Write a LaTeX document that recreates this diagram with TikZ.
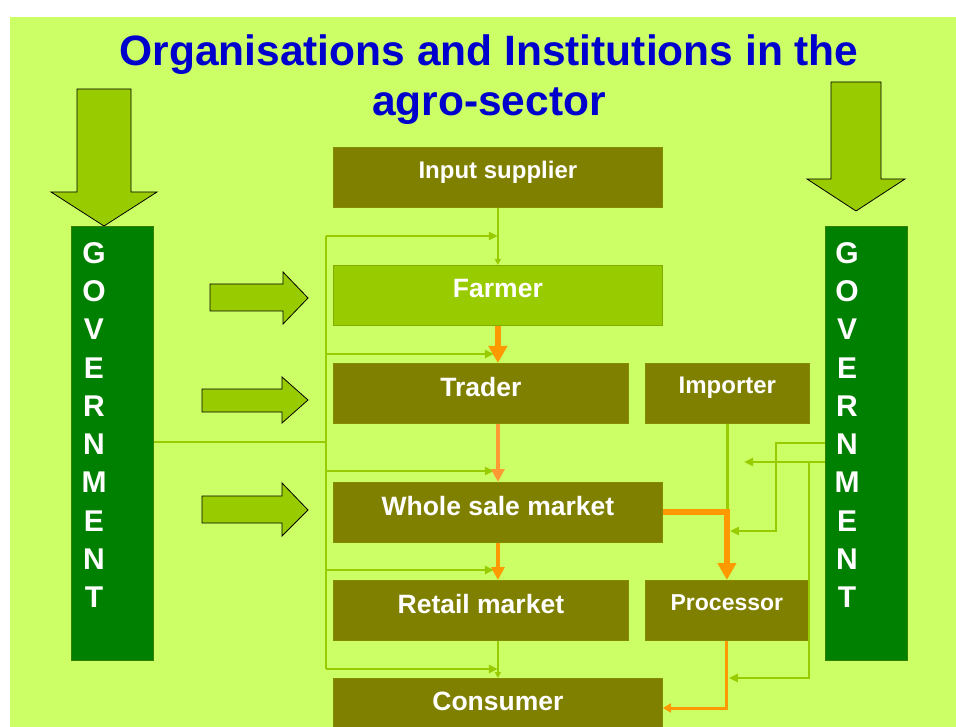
\documentclass[tikz,border=0pt]{standalone}
\usepackage{fontspec}
\setmainfont{Liberation Sans}
\usetikzlibrary{arrows.meta}
\definecolor{bg}{HTML}{CCFF66}
\definecolor{olivebox}{HTML}{808000}
\definecolor{leaf}{HTML}{99CC00}
\definecolor{govgreen}{HTML}{008000}
\definecolor{orangeA}{HTML}{FF9900}
\definecolor{orangeB}{HTML}{FF9933}
\definecolor{titleblue}{HTML}{0000CC}
\begin{document}
\begin{tikzpicture}[x=1pt,y=-1pt,
  box/.style={anchor=north west, inner sep=0pt, fill=olivebox, draw=olivebox!85!leaf, line width=0.8pt,
    text=white, font=\bfseries\fontsize{26.5}{30}\selectfont, text depth=14pt},
  smallbox/.style={box, font=\bfseries\fontsize{24}{27}\selectfont, text depth=16pt},
  farmerbox/.style={box, fill=leaf, draw=leaf!85!black},
  govbar/.style={anchor=north west, inner sep=0pt, fill=govgreen, draw=govgreen!60!olivebox, line width=1pt,
    minimum width=82pt, minimum height=434pt},
  govtext/.style={anchor=north, inner sep=0pt, align=center, text=white,
    font=\bfseries\fontsize{30}{38.3}\selectfont},
  titletext/.style={anchor=base, inner sep=0pt, text=titleblue, font=\bfseries\fontsize{42.5}{50}\selectfont},
  blockarrow/.style={fill=leaf, draw=black, line width=0.8pt, line join=miter},
  gline/.style={draw=leaf, line width=2.5pt},
  gthin/.style={draw=leaf, line width=1.4pt},
  garrow/.style={gline, -{Triangle[length=9pt,width=8pt]}},
  gthinarrow/.style={gthin, -{Triangle[length=6pt,width=6pt]}},
  obig/.style={draw=orangeA, line width=6pt, -{Triangle[length=17pt,width=18pt]}},
  omid/.style={draw=orangeB, line width=4pt, -{Triangle[length=13pt,width=13pt]}},
  omidB/.style={draw=orangeA, line width=4pt, -{Triangle[length=13pt,width=13pt]}},
  osmall/.style={draw=orangeA, line width=3pt, -{Triangle[length=8pt,width=9pt]}},
]
\clip (0,0) rectangle (956,727);
\fill[white] (0,0) rectangle (956,727);
\fill[bg] (10,17) rectangle (956,727);

% title
\node[titletext] (title1) at (489,66) {Organisations and Institutions in the};
\node[titletext] (title2) at (489,116) {agro-sector};

% boxes
\node[smallbox, minimum width=329pt, minimum height=60pt] (input) at (333,147) {Input supplier};
\node[farmerbox, minimum width=329pt, minimum height=60pt] (farmer) at (333,265) {Farmer};
\node[box, minimum width=295pt, minimum height=60pt] (trader) at (333,363) {Trader};
\node[smallbox, minimum width=164pt, minimum height=60pt] (importer) at (645,363) {Importer};
\node[box, minimum width=329pt, minimum height=60pt] (wholesale) at (333,482) {Whole sale market};
\node[box, minimum width=295pt, minimum height=60pt] (retail) at (333,580) {Retail market};
\node[smallbox, font=\bfseries\fontsize{23}{27}\selectfont, minimum width=163pt, minimum height=60pt] (processor) at (645,580) {Processor};
\node[box, minimum width=329pt, minimum height=60pt] (consumer) at (333,678) {Consumer};

% government bars
\node[govbar] (govL) at (71,226) {};
\node[govbar] (govR) at (825,226) {};
\node[govtext] (govLtxt) at (94,242) {G\\O\\V\\E\\R\\N\\M\\E\\N\\T};
\node[govtext] (govRtxt) at (847,242) {G\\O\\V\\E\\R\\N\\M\\E\\N\\T};

% block arrows
\draw[blockarrow] (77,89) -- (131,89) -- (131,192) -- (157,192) -- (104,226) -- (51,192) -- (77,192) -- cycle;
\draw[blockarrow] (831,82) -- (881,82) -- (881,179) -- (905,179) -- (856,211) -- (807,179) -- (831,179) -- cycle;
\draw[blockarrow] (210,284) -- (283,284) -- (283,272) -- (308,298) -- (283,324) -- (283,311) -- (210,311) -- cycle;
\draw[blockarrow] (202,389) -- (282,389) -- (282,377) -- (308,400) -- (282,423) -- (282,412) -- (202,412) -- cycle;
\draw[blockarrow] (202,496) -- (282,496) -- (282,483) -- (308,510) -- (282,536) -- (282,523) -- (202,523) -- cycle;

% left government bus
\coordinate (busG) at (326,442);
\coordinate (b1) at (326,236);
\coordinate (b2) at (326,354);
\coordinate (b3) at (326,471);
\coordinate (b4) at (326,570);
\coordinate (b5) at (326,669);
\draw[gline] (govL.east |- busG) -- (busG);
\draw[gline] (b1) -- (b5);
\draw[garrow] (b1) -- (input.south |- b1);
\draw[garrow] (b2) -- ([xshift=-4pt]farmer.south |- b2);
\draw[garrow] (b3) -- ([xshift=-4pt]wholesale.north |- b3);
\draw[garrow] (b4) -- ([xshift=-4pt]wholesale.south |- b4);
\draw[garrow] (b5) -- (consumer.north |- b5);

% thin chain links
\draw[gthinarrow] (input.south) -- (farmer.north);
\draw[gthinarrow] (consumer.north |- retail.south) -- (consumer.north);
\draw[gline] (importer.south) -- (importer.south |- wholesale.east);

% orange flows
\draw[obig] (farmer.south) -- (trader.north -| farmer.south);
\draw[omid] (wholesale.north |- trader.south) -- (wholesale.north);
\draw[omidB] (wholesale.south) -- (retail.north -| wholesale.south);
\draw[obig, line join=miter] (wholesale.east) -| (processor.north);
\coordinate (pc) at (727,708);
\draw[osmall, line join=miter] (processor.south) -- (processor.south |- pc) -- (consumer.east |- pc);

% right government connectors
\coordinate (rA) at (776,443);
\coordinate (rB) at (776,531);
\coordinate (rC) at (825,462);
\coordinate (rD) at (809,462);
\coordinate (rE) at (809,678);
\draw[garrow] (govR.west |- rA) -- (rA) -- (rB) -- ([xshift=3pt]processor.north |- rB);
\draw[garrow] (govR.west |- rC) -- (744,462);
\draw[garrow] (rD) -- (rE) -- ([xshift=2pt]processor.south |- rE);
\end{tikzpicture}
\end{document}
